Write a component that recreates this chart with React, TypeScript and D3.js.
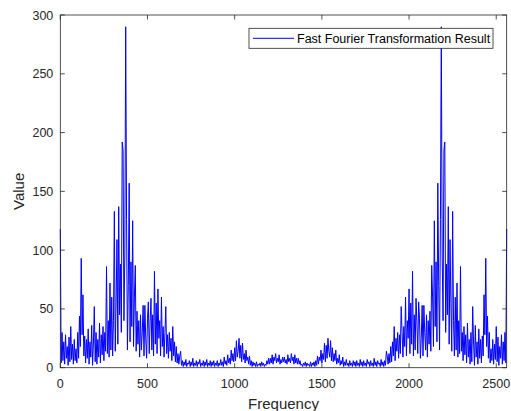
import React from 'react';
import * as d3 from 'd3';

const width = 511;
const height = 411;
const margin = { left: 60.3, right: 4.3, top: 15, bottom: 43.3 };

// magnitude, every 5 Hz from 0 to 1280 (first half of the spectrum)
const halfValues = [
  118, 4, 30, 6, 22, 3, 28, 8, 18, 2, 26, 5, 35, 7, 20, 3, 24, 6, 16, 4,
  30, 8, 44, 18, 93, 28, 62, 10, 27, 4, 24, 8, 33, 3, 22, 9, 36, 2, 21, 52,
  5, 30, 3, 24, 9, 38, 4, 28, 11, 35, 6, 30, 14, 86, 12, 40, 9, 72, 15, 60,
  10, 40, 133, 14, 55, 109, 20, 137, 45, 88, 30, 192, 185, 40, 95, 290, 126, 15, 70, 157,
  22, 90, 35, 125, 18, 60, 87, 14, 48, 20, 40, 9, 45, 15, 30, 53, 10, 53, 25, 8,
  42, 56, 12, 38, 59, 15, 45, 10, 82, 20, 55, 12, 67, 25, 40, 10, 60, 18, 35, 9,
  30, 52, 12, 28, 8, 30, 14, 25, 6, 35, 10, 22, 5, 18, 4, 12, 3, 10, 14, 2,
  6, 1, 5, 2, 7, 1, 4, 3, 6, 1, 5, 2, 8, 1, 4, 2, 6, 1, 5, 3,
  7, 1, 4, 2, 6, 1, 5, 2, 7, 1, 4, 2, 6, 1, 5, 2, 6, 1, 4, 2,
  6, 1, 4, 2, 7, 2, 5, 1, 9, 3, 6, 2, 11, 4, 8, 3, 15, 6, 12, 5,
  17, 6, 23, 9, 14, 25, 8, 19, 5, 21, 7, 12, 4, 15, 6, 9, 3, 10, 2, 6,
  1, 5, 2, 4, 1, 5, 1, 3, 2, 4, 1, 5, 2, 4, 1, 3, 2, 6, 3, 8,
  3, 8, 4, 11, 3, 9, 6, 12, 4, 8, 5, 11, 3, 7, 4, 9, 5
];
// FFT of a real signal is mirror symmetric, the right half is the same values reversed
const values = halfValues.concat(halfValues.slice(0, -1).reverse());
const freqStep = 5;

const xTicks = [0, 500, 1000, 1500, 2000, 2500];
const yTicks = [0, 50, 100, 150, 200, 250, 300];
const legendLabel = 'Fast Fourier Transformation Result';

const axisColor = '#262626';
const font = '"Liberation Sans", Arial, sans-serif';

export default function App() {
  const x = d3
    .scaleLinear()
    .domain([0, 2560])
    .range([margin.left, width - margin.right]);
  const y = d3
    .scaleLinear()
    .domain([0, 300])
    .range([height - margin.bottom, margin.top]);

  const line = d3
    .line<number>()
    .x((d, i) => x(i * freqStep))
    .y(d => y(d));

  const x0 = x.range()[0];
  const x1 = x.range()[1];
  const y0 = y.range()[0];
  const y1 = y.range()[1];
  const tick = 4.5;

  return (
    <svg
      width={width}
      height={height}
      style={{ position: 'absolute', left: 0, top: 0, background: '#fff' }}
    >
      <path d={line(values) || ''} fill="none" stroke="#0000ff" strokeWidth={1} strokeLinejoin="bevel" />

      {/* box and ticks */}
      <rect x={x0} y={y1} width={x1 - x0} height={y0 - y1} fill="none" stroke={axisColor} strokeWidth={0.8} />
      {xTicks.map(t => (
        <g key={'x' + t}>
          <line x1={x(t)} x2={x(t)} y1={y0} y2={y0 - tick} stroke={axisColor} strokeWidth={0.8} />
          <line x1={x(t)} x2={x(t)} y1={y1} y2={y1 + tick} stroke={axisColor} strokeWidth={0.8} />
          <text
            x={x(t)}
            y={y0 + 20}
            textAnchor="middle"
            fill={axisColor}
            style={{ fontFamily: font, fontSize: '12.5px' }}
          >
            {t}
          </text>
        </g>
      ))}
      {yTicks.map(t => (
        <g key={'y' + t}>
          <line x1={x0} x2={x0 + tick} y1={y(t)} y2={y(t)} stroke={axisColor} strokeWidth={0.8} />
          <line x1={x1} x2={x1 - tick} y1={y(t)} y2={y(t)} stroke={axisColor} strokeWidth={0.8} />
          <text
            x={x0 - 7}
            y={y(t) + 4.5}
            textAnchor="end"
            fill={axisColor}
            style={{ fontFamily: font, fontSize: '12.5px' }}
          >
            {t}
          </text>
        </g>
      ))}

      <text
        x={(x0 + x1) / 2}
        y={409}
        textAnchor="middle"
        fill={axisColor}
        style={{ fontFamily: font, fontSize: '15px' }}
      >
        Frequency
      </text>
      <text
        transform={`translate(24, ${(y0 + y1) / 2}) rotate(-90)`}
        textAnchor="middle"
        fill={axisColor}
        style={{ fontFamily: font, fontSize: '15px' }}
      >
        Value
      </text>

      {/* legend */}
      <rect x={249} y={28.3} width={244} height={20} fill="#fff" stroke={axisColor} strokeWidth={0.8} />
      <line x1={253} x2={294} y1={38.3} y2={38.3} stroke="#0000ff" strokeWidth={1} />
      <text x={297} y={42.5} fill="#000" style={{ fontFamily: font, fontSize: '12.5px' }}>
        {legendLabel}
      </text>
    </svg>
  );
}
